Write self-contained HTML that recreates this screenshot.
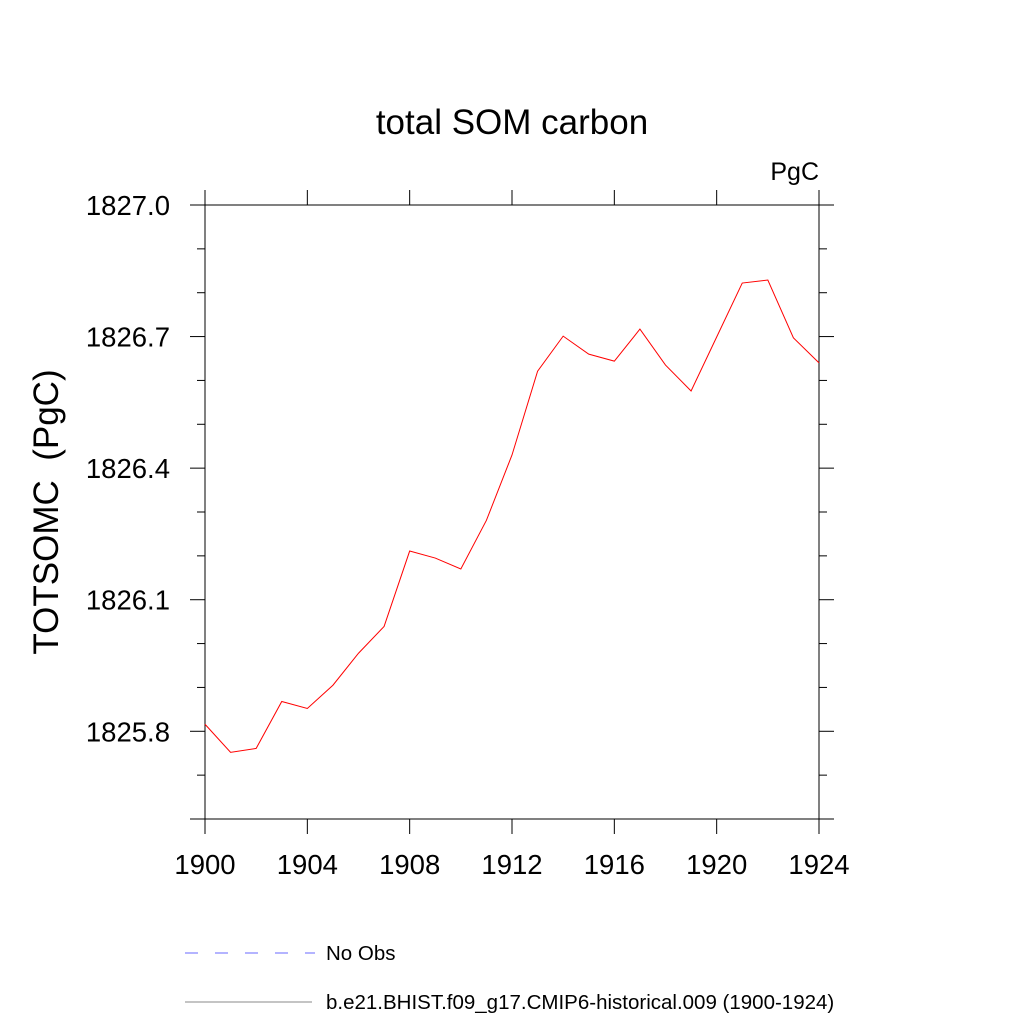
<!DOCTYPE html>
<html><head><meta charset="utf-8"><style>
body{margin:0;background:#fff}
svg{display:block;font-family:"Liberation Sans",sans-serif}
</style></head><body>
<svg id="chart" width="1024" height="1024">
<text x="512" y="134" font-size="35" text-anchor="middle">total SOM carbon</text>
<text x="819" y="180" font-size="25" text-anchor="end">PgC</text>
<text transform="translate(58,512) rotate(-90)" font-size="35" text-anchor="middle">TOTSOMC&#160;&#160;(PgC)</text>
<rect x="205" y="205" width="614" height="614" fill="none" stroke="#000" stroke-width="1"/>
<g id="axes"></g>
<polyline id="series" fill="none" stroke="#ff0000" stroke-width="1"/>
<line x1="185" y1="953" x2="315" y2="953" stroke="#6a6aff" stroke-width="1" stroke-dasharray="13,17"/>
<text x="326" y="960" font-size="20.5">No Obs</text>
<line x1="185" y1="1002" x2="312" y2="1002" stroke="#888" stroke-width="1"/>
<text x="326" y="1009" font-size="20.5">b.e21.BHIST.f09_g17.CMIP6-historical.009 (1900-1924)</text>
</svg>
<script>
const years=[1900,1901,1902,1903,1904,1905,1906,1907,1908,1909,1910,1911,1912,1913,1914,1915,1916,1917,1918,1919,1920,1921,1922,1923,1924];
const values=[1825.816,1825.752,1825.761,1825.868,1825.852,1825.905,1825.978,1826.039,1826.211,1826.195,1826.170,1826.281,1826.430,1826.621,1826.701,1826.660,1826.644,1826.717,1826.635,1826.576,1826.699,1826.822,1826.829,1826.697,1826.640];
const xTicks=[1900,1904,1908,1912,1916,1920,1924];
const yTicks=[1825.8,1826.1,1826.4,1826.7,1827.0];
const yTickLabels=["1825.8","1826.1","1826.4","1826.7","1827.0"];
const X0=205,X1=819,Y0=819,Y1=205,XMIN=1900,XMAX=1924,YMIN=1825.6,YMAX=1827.0;
const sx=v=>X0+(v-XMIN)/(XMAX-XMIN)*(X1-X0);
const sy=v=>Y0-(v-YMIN)/(YMAX-YMIN)*(Y0-Y1);
const NS="http://www.w3.org/2000/svg";
const g=document.getElementById('axes');
function ln(x1,y1,x2,y2,name){const l=document.createElementNS(NS,'line');l.setAttribute('x1',x1);l.setAttribute('y1',y1);l.setAttribute('x2',x2);l.setAttribute('y2',y2);l.setAttribute('stroke','#000');


g.appendChild(l);}
function tx(x,y,s,anchor,name){const t=document.createElementNS(NS,'text');t.setAttribute('x',x);t.setAttribute('y',y);t.setAttribute('font-size','27.5');t.setAttribute('text-anchor',anchor);t.textContent=s;


g.appendChild(t);}
xTicks.forEach(v=>{const x=sx(v);ln(x,Y0,x,Y0+15,'x-tick');ln(x,Y1,x,Y1-15,'x-tick-top');tx(x,Y0+55,String(v),'middle','x-tick-label');});
yTicks.forEach((v,i)=>{const y=sy(v);ln(X0-15,y,X0,y,'y-tick');ln(X1,y,X1+15,y,'y-tick-right');tx(X0-35,y+10,yTickLabels[i],'end','y-tick-label');});
for(let k=0;k<=14;k++){const v=YMIN+k*0.1;if(k%3!==2){const y=sy(v);ln(X0-8,y,X0,y,'y-minor-tick');ln(X1,y,X1+8,y,'y-minor-tick-right');}}
ln(X0-15,Y0,X0,Y0,'y-tick-bottom');ln(X1,Y0,X1+15,Y0,'y-tick-bottom-right');
document.getElementById('series').setAttribute('points',years.map((y,i)=>sx(y)+','+sy(values[i])).join(' '));
</script>
</body></html>
